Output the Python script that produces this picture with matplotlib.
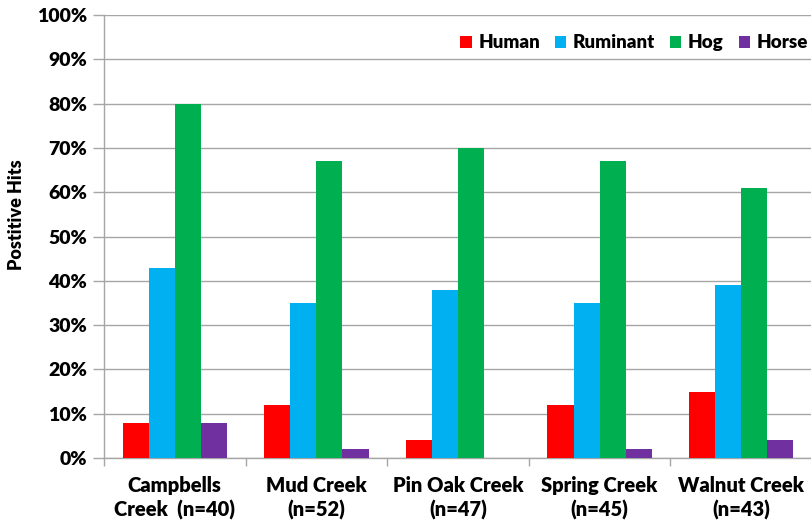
import matplotlib
matplotlib.use("Agg")
import matplotlib.pyplot as plt
import numpy as np
from matplotlib.ticker import MultipleLocator, FuncFormatter

sites = ["Campbells\nCreek  (n=40)", "Mud Creek\n(n=52)", "Pin Oak Creek\n(n=47)",
         "Spring Creek\n(n=45)", "Walnut Creek\n(n=43)"]
series = ["Human", "Ruminant", "Hog", "Horse"]
human = [8, 12, 4, 12, 15]
ruminant = [43, 35, 38, 35, 39]
hog = [80, 67, 70, 67, 61]
horse = [8, 2, 0, 2, 4]
colors = ["#FF0000", "#00B0F0", "#00B050", "#7030A0"]

plt.rcParams["font.family"] = ["Lato", "DejaVu Sans"]
W = "heavy"

fig = plt.figure(figsize=(8.12, 5.29), dpi=100)
ax = fig.add_axes([104 / 812, 1 - 458 / 529, 1 - 104 / 812, (458 - 15) / 529])

grid_c = "#A6A6A6"
x = np.arange(len(sites))
bw = 0.184
for i, (vals, name) in enumerate(zip([human, ruminant, hog, horse], series)):
    ax.bar(x + (i - 1.5) * bw, vals, bw, color=colors[i], label=name, zorder=3)

ax.set_xlim(-0.5, len(sites) - 0.5)
ax.set_ylim(0, 100)
ax.yaxis.set_major_locator(MultipleLocator(10))
ax.yaxis.set_major_formatter(FuncFormatter(lambda v, p: f"{v:.0f}%"))
ax.grid(axis="y", color=grid_c, linewidth=1.0, zorder=0)

ax.set_xticks(x)
ax.set_xticklabels(sites, fontsize=14.5, fontweight=W, linespacing=1.3)
ax.set_xticks(np.arange(len(sites) + 1) - 0.5, minor=True)
ax.tick_params(axis="x", which="major", length=0, pad=13)
ax.tick_params(axis="x", which="minor", length=6, color=grid_c, width=1.0)
ax.tick_params(axis="y", length=8, color=grid_c, width=1.0, labelsize=14, pad=4)
for lab in ax.get_yticklabels():
    lab.set_fontweight(W)

for s in ["top", "right"]:
    ax.spines[s].set_visible(False)
for s in ["left", "bottom"]:
    ax.spines[s].set_color(grid_c)
    ax.spines[s].set_linewidth(1.0)

ax.set_ylabel("Postitive Hits", fontsize=13, fontweight=W)
ax.yaxis.set_label_coords(-0.112, 0.55)

leg = ax.legend(ncol=4, loc="center right", bbox_to_anchor=(0.994, 0.9368), frameon=False,
                fontsize=13.5, handlelength=0.6, handleheight=0.6, handletextpad=0.35,
                columnspacing=0.8, borderaxespad=0.0, borderpad=0.0)
for t in leg.get_texts():
    t.set_fontweight(W)

fig.savefig("out.png", dpi=100)
